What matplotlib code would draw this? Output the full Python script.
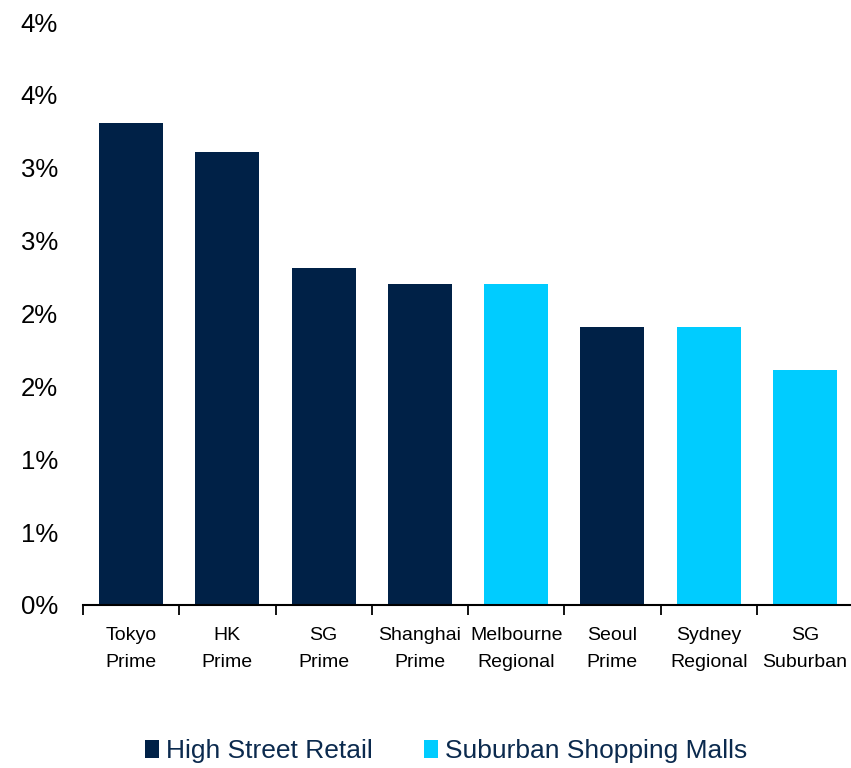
import matplotlib
matplotlib.use("Agg")
import matplotlib.pyplot as plt
from matplotlib.ticker import FixedLocator, FuncFormatter, MultipleLocator
from matplotlib.patches import Patch

plt.rcParams['font.family'] = ['Liberation Sans Narrow', 'Liberation Sans', 'DejaVu Sans']

categories = ["Tokyo\nPrime", "HK\nPrime", "SG\nPrime", "Shanghai\nPrime",
              "Melbourne\nRegional", "Seoul\nPrime", "Sydney\nRegional", "SG\nSuburban"]
values = [3.31, 3.11, 2.31, 2.20, 2.20, 1.91, 1.91, 1.61]
segments = ["High Street Retail", "High Street Retail", "High Street Retail",
            "High Street Retail", "Suburban Shopping Malls", "High Street Retail",
            "Suburban Shopping Malls", "Suburban Shopping Malls"]
segment_names = ["High Street Retail", "Suburban Shopping Malls"]

palette = {"High Street Retail": "#002147", "Suburban Shopping Malls": "#00CCFF"}

fig = plt.figure(figsize=(8.51, 7.68), dpi=100)
ax = fig.add_axes([83 / 851, 163 / 768, 770 / 851, (605 - 22) / 768])

x = list(range(len(categories)))
ax.bar(x, values, width=0.665, color=[palette[s] for s in segments], zorder=2)

ax.set_xlim(-0.5, len(categories) - 0.5)
ax.set_ylim(0, 4.0)
ax.yaxis.set_major_locator(MultipleLocator(0.5))
ax.yaxis.set_major_formatter(FuncFormatter(lambda v, p: f"{int(v + 0.5)}%"))

ax.set_xticks(x)
ax.set_xticklabels(categories, fontsize=14, linespacing=1.75)
ax.xaxis.set_minor_locator(FixedLocator([i - 0.5 for i in range(len(categories))]))
ax.tick_params(axis='x', which='major', length=0, pad=16)
ax.tick_params(axis='x', which='minor', length=7, width=1.3, direction='out', color='black')
ax.tick_params(axis='y', length=0, labelsize=18.5, pad=18)

for side in ['top', 'right', 'left']:
    ax.spines[side].set_visible(False)
ax.spines['bottom'].set_linewidth(1.5)

handles = [Patch(facecolor=palette[s], edgecolor='none', label=s) for s in segment_names]
leg = fig.legend(handles=handles, loc='center', bbox_to_anchor=(446 / 851, 1 - 751 / 768),
                 ncol=2, frameon=False, fontsize=19, handlelength=0.55, handleheight=0.65,
                 handletextpad=0.25, columnspacing=1.95)
for t in leg.get_texts():
    t.set_color("#0B2A4E")

fig.savefig("out.png", dpi=100)
